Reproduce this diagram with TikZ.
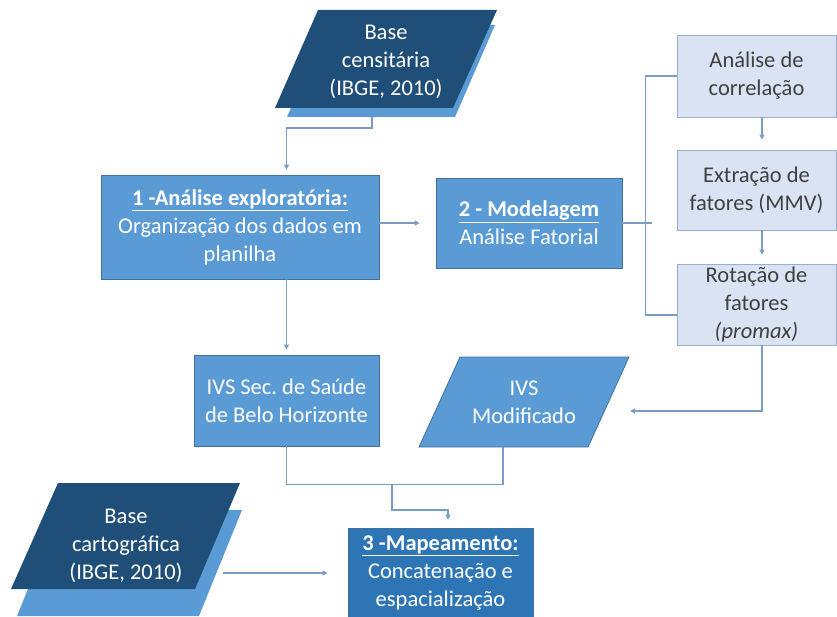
\documentclass[tikz,border=0pt]{standalone}
\usepackage{fontspec}
\setmainfont{Carlito}
\usetikzlibrary{arrows.meta}
\frenchspacing

\definecolor{medblue}{HTML}{5B9BD5}
\definecolor{darkblue}{HTML}{1F4E79}
\definecolor{mapblue}{HTML}{2E75B6}
\definecolor{paleblue}{HTML}{DAE3F3}
\definecolor{edgeblue}{HTML}{41719C}
\definecolor{linkblue}{HTML}{7A9CC6}

\begin{document}
\begin{tikzpicture}[x=1pt,y=-1pt,
    every node/.style={align=center,inner sep=0pt,font=\fontsize{22.5}{28}\selectfont},
    bluebox/.style={rectangle,fill=medblue,draw=edgeblue,line width=0.8pt,text=white},
    palebox/.style={rectangle,fill=paleblue,draw=edgeblue!55,line width=0.8pt,text=black!75,minimum width=159pt},
    link/.style={draw=linkblue,line width=1.1pt},
    arr/.style={link,-{Triangle[length=5pt,width=5pt]}}]
    \useasboundingbox (0,0) rectangle (837,617);

    \fill[medblue] (327,25) -- (495,25) -- (455,117) -- (287,117) -- cycle;
    \fill[darkblue] (318,10) -- (497,10) -- (453,108) -- (275,108) -- cycle;
    \node[text=white] (cens) at (386,62) {Base\\censitária\\(IBGE, 2010)};
    \coordinate (censout) at (372,117);

    \node[bluebox,minimum width=278pt,minimum height=104pt] (explo) at (240,227)
        {\textbf{\underline{1 -Análise exploratória:}}\\Organização dos dados em\\planilha};
    \node[bluebox,minimum width=186pt,minimum height=90pt] (model) at (529,223)
        {\textbf{\underline{2 - Modelagem}}\\Análise Fatorial};

    \node[palebox,minimum height=82pt] (corr) at (756.5,76) {Análise de\\correlação};
    \node[palebox,minimum height=80pt] (extr) at (756.5,190) {Extração de\\fatores (MMV)};
    \node[palebox,minimum height=81pt] (rota) at (756.5,304.5) {Rotação de\\fatores\\\textit{(promax)}};

    \node[bluebox,minimum width=185pt,minimum height=91pt] (ivssec) at (286.5,400.5)
        {IVS Sec. de Saúde\\de Belo Horizonte};
    \filldraw[fill=medblue,draw=edgeblue,line width=0.8pt] (460,357) -- (629,357) -- (588,447) -- (419,447) -- cycle;
    \node[text=white] (ivsmod) at (524,402) {IVS\\Modificado};
    \coordinate (modin) at (630,411);
    \coordinate (modout) at (503,447);

    \fill[medblue] (60,510) -- (242,510) -- (199,616) -- (17,616) -- cycle;
    \fill[darkblue] (58,483) -- (240,483) -- (195,589) -- (11,589) -- cycle;
    \node[text=white] (cart) at (126,546) {Base\\cartográfica\\(IBGE, 2010)};
    \coordinate (cartout) at (223,573);

    \node[bluebox,fill=mapblue,minimum width=185pt,minimum height=90pt] (mapa) at (440.5,573)
        {\textbf{\underline{3 -Mapeamento:}}\\Concatenação e\\espacialização};

    \draw[arr,shorten >=5pt] (censout) -- ++(0,11) -| (explo.north -| ivssec.north);
    \draw[arr,shorten >=16pt] (explo.east |- model.west) -- (model.west);
    \draw[link] (model.east) -- ++(30,0);
    \draw[link] (corr.west) -- ++(-31,0) |- ([yshift=-10.5pt]rota.west);
    \draw[arr,shorten >=10pt] ([xshift=5.5pt]corr.south) -- ([xshift=5.5pt]extr.north);
    \draw[arr,shorten >=9pt] ([xshift=5.5pt]extr.south) -- ([xshift=5.5pt]rota.north);
    \draw[arr] ([xshift=5.5pt]rota.south) |- (modin);
    \draw[arr,shorten >=5pt] (explo.south -| ivssec.north) -- (ivssec.north);
    \draw[link] (ivssec.south) -- ++(0,38) -| (modout);
    \draw[arr,shorten >=8pt] (392,484) -- ++(0,26) -| ([xshift=7.5pt]mapa.north);
    \draw[arr,shorten >=20pt] (cartout) -- (mapa.west |- cartout);
\end{tikzpicture}
\end{document}
